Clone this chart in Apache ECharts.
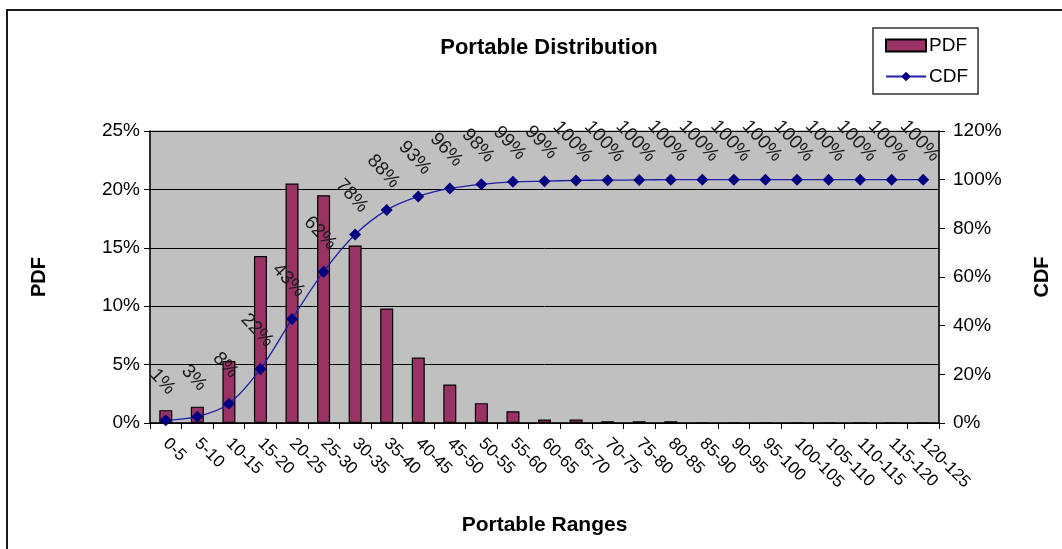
<!DOCTYPE html>
<html>
<head>
<meta charset="utf-8">
<title>Portable Distribution</title>
<script src="https://cdn.jsdelivr.net/npm/echarts@6/dist/echarts.min.js"></script>
<style>
  html, body { margin: 0; padding: 0; background: #fff; }
  #chart { width: 1062px; height: 549px; }
</style>
</head>
<body>
<div id="chart"></div>
<script>
// Range buckets along the x axis
const ranges = ['0-5','5-10','10-15','15-20','20-25','25-30','30-35','35-40','40-45','45-50',
  '50-55','55-60','60-65','65-70','70-75','75-80','80-85','85-90','90-95','95-100',
  '100-105','105-110','110-115','115-120','120-125'];

// Share of items in each range (%)
const pdfValues = [1.1, 1.4, 5.3, 14.3, 20.5, 19.5, 15.2, 9.8, 5.6, 3.3,
  1.7, 1.0, 0.3, 0.3, 0.15, 0.15, 0.15, 0, 0, 0,
  0, 0, 0, 0, 0];

// Cumulative share up to each range (%)
const cdfValues = [1.1, 2.6, 7.9, 22.2, 42.7, 62.2, 77.5, 87.5, 93.1, 96.4,
  98.1, 99.1, 99.4, 99.7, 99.8, 99.9, 100, 100, 100, 100,
  100, 100, 100, 100, 100];

// Axis tick settings (%)
const pdfAxisMax = 25, pdfAxisStep = 5;
const cdfAxisMax = 120, cdfAxisStep = 20;

const FONT = '"Liberation Sans", Arial, sans-serif';

const chart = echarts.init(document.getElementById('chart'), null, { renderer: 'canvas' });

chart.setOption({
  animation: false,
  backgroundColor: '#ffffff',
  textStyle: { fontFamily: FONT, color: '#000' },
  graphic: [{
    type: 'rect',
    shape: { x: 7, y: 10, width: 1200, height: 700 },
    style: { fill: 'none', stroke: '#1a1a1a', lineWidth: 2 },
    silent: true
  }],
  title: {
    text: 'Portable Distribution',
    left: 544, textAlign: 'center', top: 32,
    textStyle: { fontFamily: FONT, fontSize: 22, fontWeight: 'bold', color: '#000' }
  },
  legend: {
    orient: 'vertical',
    left: 873, top: 28,
    padding: [8, 10, 8, 12],
    itemGap: 12,
    itemWidth: 40, itemHeight: 12,
    backgroundColor: '#fff',
    borderColor: '#333', borderWidth: 1.5, borderRadius: 0,
    textStyle: { fontFamily: FONT, fontSize: 19, color: '#000', padding: [0, 0, 0, -2] },
    data: [
      { name: 'PDF', icon: 'rect' },
      { name: 'CDF' }
    ]
  },
  grid: {
    left: 150, right: 123, top: 131, bottom: 126,
    show: true, backgroundColor: '#C0C0C0', borderColor: '#8a8a8a', borderWidth: 1
  },
  xAxis: {
    type: 'category',
    data: ranges,
    boundaryGap: true,
    name: 'Portable Ranges',
    nameLocation: 'middle',
    nameGap: 92,
    nameTextStyle: { fontFamily: FONT, fontSize: 21, fontWeight: 'bold', color: '#000' },
    axisLine: { lineStyle: { color: '#000', width: 1.5 } },
    axisTick: { show: true, length: 6, lineStyle: { color: '#000' }, alignWithLabel: false },
    axisLabel: { rotate: -45, fontFamily: FONT, fontSize: 17, color: '#000', margin: 18, interval: 0 }
  },
  yAxis: [{
    type: 'value',
    min: 0, max: pdfAxisMax, interval: pdfAxisStep,
    name: 'PDF',
    nameLocation: 'middle',
    nameRotate: 90,
    nameGap: 101,
    nameTextStyle: { fontFamily: FONT, fontSize: 20, fontWeight: 'bold', color: '#000' },
    axisLine: { show: true, lineStyle: { color: '#000', width: 1.5 } },
    axisTick: { show: true, length: 6, lineStyle: { color: '#000' } },
    axisLabel: { formatter: '{value}%', fontFamily: FONT, fontSize: 19, color: '#000', margin: 10 },
    splitLine: { show: true, lineStyle: { color: '#000', width: 1 } }
  }, {
    type: 'value',
    min: 0, max: cdfAxisMax, interval: cdfAxisStep,
    name: 'CDF',
    nameLocation: 'middle',
    nameRotate: 90,
    nameGap: 93,
    nameTextStyle: { fontFamily: FONT, fontSize: 20, fontWeight: 'bold', color: '#000' },
    axisLine: { show: true, lineStyle: { color: '#000', width: 1.5 } },
    axisTick: { show: true, length: 6, lineStyle: { color: '#000' } },
    axisLabel: { formatter: '{value}%', fontFamily: FONT, fontSize: 19, color: '#000', margin: 14 },
    splitLine: { show: false }
  }],
  series: [{
    name: 'PDF',
    type: 'bar',
    yAxisIndex: 0,
    data: pdfValues,
    barWidth: 13,
    itemStyle: { color: '#993366', borderColor: '#000', borderWidth: 1.2 }
  }, {
    name: 'CDF',
    type: 'line',
    yAxisIndex: 1,
    data: cdfValues,
    smooth: 0.3,
    symbol: 'diamond',
    symbolSize: 12,
    lineStyle: { color: '#1f1fa8', width: 1.3 },
    itemStyle: { color: '#000080' },
    label: {
      show: true,
      position: 'top',
      distance: 29,
      offset: [-5, 0],
      rotate: -47,
      align: 'center',
      verticalAlign: 'middle',
      fontFamily: FONT,
      fontSize: 19,
      color: '#1a1a1a',
      formatter: p => Math.round(p.value) + '%'
    },
    z: 5
  }]
});
</script>
</body>
</html>
